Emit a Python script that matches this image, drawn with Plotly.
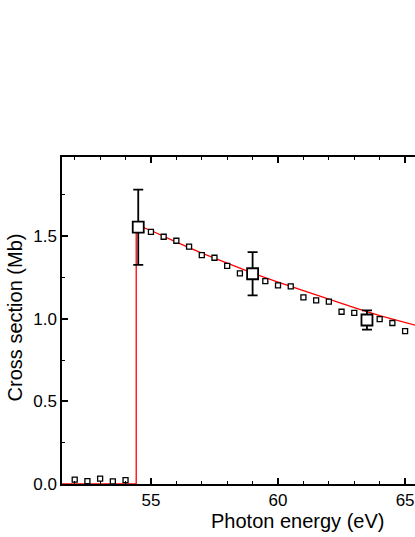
import plotly.graph_objects as go

# Measured points (small squares)
small_x = [52.0, 52.5, 53.0, 53.5, 54.0,
           55.0, 55.5, 56.0, 56.5, 57.0, 57.5, 58.0, 58.5,
           59.5, 60.0, 60.5, 61.0, 61.5, 62.0, 62.5, 63.0,
           64.0, 64.5, 65.0]
small_y = [0.026, 0.018, 0.032, 0.016, 0.024,
           1.527, 1.497, 1.473, 1.437, 1.386, 1.370, 1.321, 1.275,
           1.228, 1.203, 1.197, 1.130, 1.112, 1.104, 1.043, 1.036,
           0.998, 0.975, 0.926]
small_err = [0.012] * len(small_x)

# Absolute-scale points (large squares) with error bars
big_x = [54.5, 59.0, 63.5]
big_y = [1.555, 1.273, 0.993]
big_err = [0.228, 0.131, 0.058]

# Theory curve
line_x = [51.5, 54.42, 54.42, 55, 56, 57, 58, 59, 60, 61, 62, 63, 64, 65, 66]
line_y = [0.0, 0.0, 1.57, 1.535, 1.465, 1.398, 1.337, 1.277, 1.222, 1.170, 1.119, 1.068, 1.020, 0.978, 0.937]

font = "Liberation Sans, Arial, sans-serif"

fig = go.Figure()
fig.add_trace(go.Scatter(x=line_x, y=line_y, mode="lines",
                         line=dict(color="#ff0000", width=1.3), showlegend=False))
fig.add_trace(go.Scatter(x=small_x, y=small_y, mode="markers",
                         marker=dict(symbol="square", size=5, color="white",
                                     line=dict(color="black", width=1.3)),
                         error_y=dict(type="data", array=small_err, color="black",
                                      thickness=1, width=2),
                         showlegend=False))
fig.add_trace(go.Scatter(x=big_x, y=big_y, mode="markers",
                         marker=dict(symbol="square", size=11, color="white",
                                     line=dict(color="black", width=1.8)),
                         error_y=dict(type="data", array=big_err, color="black",
                                      thickness=1.8, width=5),
                         showlegend=False))

fig.update_layout(
    width=415, height=537,
    margin=dict(l=62, r=0, t=157, b=53),
    plot_bgcolor="white", paper_bgcolor="white",
    font=dict(family=font, size=17, color="black"),
    xaxis=dict(range=[51.5, 65.39], showgrid=False, zeroline=False,
               showline=True, linecolor="black", linewidth=1.5, mirror="ticks",
               ticks="inside", ticklen=6, tickwidth=1.5, tickcolor="black",
               tickvals=[55, 60, 65], ticktext=["55", "60", "65"],
               minor=dict(tickvals=[52, 53, 54, 56, 57, 58, 59, 61, 62, 63, 64],
                          ticks="inside", ticklen=3, tickwidth=1.2, tickcolor="black"),
               tickfont=dict(size=17)),
    yaxis=dict(range=[0, 1.98], showgrid=False, zeroline=False,
               showline=True, linecolor="black", linewidth=1.5, mirror=False,
               ticks="inside", ticklen=6, tickwidth=1.5, tickcolor="black",
               tickvals=[0, 0.5, 1.0, 1.5], ticktext=["0.0", "0.5", "1.0", "1.5"],
               minor=dict(tickvals=[0.25, 0.75, 1.25, 1.75],
                          ticks="inside", ticklen=3, tickwidth=1.2, tickcolor="black"),
               tickfont=dict(size=17)),
    annotations=[
        dict(text="Photon energy (eV)", xref="paper", yref="paper",
             x=0.666, y=-0.113, xanchor="center", yanchor="middle",
             showarrow=False, font=dict(size=20, family=font)),
        dict(text="Cross section (Mb)", xref="paper", yref="paper",
             x=-0.1346, y=0.511, xanchor="center", yanchor="middle", textangle=-90,
             showarrow=False, font=dict(size=20, family=font)),
    ],
)

fig.write_html("out.html",
               config={"displayModeBar": False},
               post_script="document.body.style.margin='0';document.body.style.overflow='hidden';")
